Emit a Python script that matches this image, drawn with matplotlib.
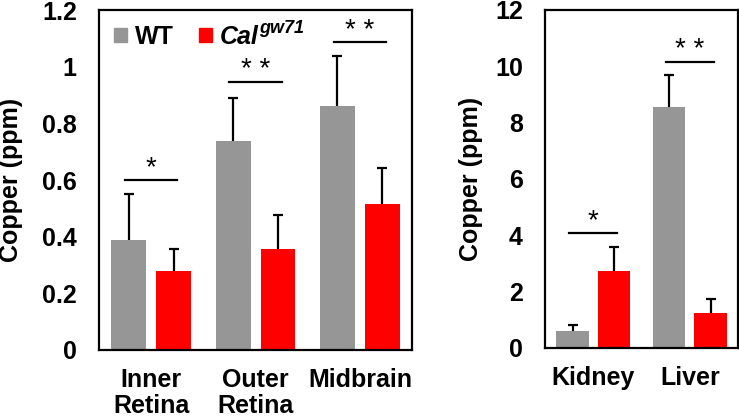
import matplotlib
matplotlib.use('Agg')
import matplotlib.pyplot as plt
from matplotlib.patches import Patch
from matplotlib.transforms import offset_copy
import numpy as np

plt.rcParams['font.family'] = ['Liberation Sans', 'DejaVu Sans']
plt.rcParams['font.weight'] = 'bold'

# brain tissues
brain_labels = ['Inner\nRetina', 'Outer\nRetina', 'Midbrain']
brain_wt = [0.388, 0.738, 0.861]
brain_wt_err = [0.162, 0.151, 0.177]
brain_cal = [0.279, 0.356, 0.515]
brain_cal_err = [0.077, 0.121, 0.128]
brain_sig = ['*', '* *', '* *']
brain_sig_y = [0.60, 0.946, 1.087]

# organs
organ_labels = ['Kidney', 'Liver']
organ_wt = [0.60, 8.55]
organ_wt_err = [0.22, 1.14]
organ_cal = [2.73, 1.24]
organ_cal_err = [0.86, 0.50]
organ_sig = ['*', '* *']
organ_sig_y = [4.08, 10.15]

grey = '#969696'
red = '#ff0000'
w = 0.335
off = 0.215

fig = plt.figure(figsize=(7.39, 4.17), dpi=100)
ax1 = fig.add_axes([0.134, 0.1607, 0.4236, 0.815])
ax2 = fig.add_axes([0.7375, 0.1655, 0.2612, 0.8106])


def draw(ax, labels, wt, wt_err, cal, cal_err, sig, sig_y, ymax, step, fmt):
    x = np.arange(len(labels))
    ax.bar(x - off, wt, w, color=grey, zorder=2)
    ax.bar(x + off, cal, w, color=red, zorder=2)
    for xs, vals, errs in [(x - off, wt, wt_err), (x + off, cal, cal_err)]:
        eb = ax.errorbar(xs, vals, yerr=[np.zeros(len(vals)), errs], fmt='none',
                         ecolor='black', elinewidth=1.6, capsize=3.5, capthick=1.6, zorder=1)
        eb[1][0].set_visible(False)
    for i in range(len(labels)):
        ax.plot([x[i] - 0.25, x[i] + 0.25], [sig_y[i], sig_y[i]], color='black', lw=1.6)
        ax.annotate(sig[i], xy=(x[i], sig_y[i]), xytext=(0, -1), textcoords='offset points',
                    ha='center', va='bottom', fontsize=20, fontweight='normal')
    ax.set_xlim(-0.5, len(labels) - 0.5)
    ax.set_ylim(0, ymax)
    ticks = np.arange(0, ymax + step / 2, step)
    ax.set_yticks(ticks)
    ax.set_yticklabels([fmt(t) for t in ticks])
    ax.set_xticks(x)
    ax.set_xticklabels(labels, linespacing=1.1)
    ax.tick_params(axis='both', length=0, labelsize=18)
    ax.tick_params(axis='y', pad=16)
    ax.tick_params(axis='x', pad=13)
    for s in ax.spines.values():
        s.set_linewidth(1.6)
    ax.set_ylabel('Copper (ppm)', fontsize=18, fontweight='bold')


def fmt1(t):
    t = round(t, 1)
    if t == int(t):
        return str(int(t))
    return ('%.1f' % t)


draw(ax1, brain_labels, brain_wt, brain_wt_err, brain_cal, brain_cal_err,
     brain_sig, brain_sig_y, 1.2, 0.2, fmt1)
draw(ax2, organ_labels, organ_wt, organ_wt_err, organ_cal, organ_cal_err,
     organ_sig, organ_sig_y, 12, 2, lambda t: str(int(round(t))))
ax1.yaxis.set_label_coords(-0.243, 0.5)
ax2.yaxis.set_label_coords(-0.321, 0.5)

handles = [Patch(color=grey), Patch(color=red)]
leg = ax1.legend(handles, ['WT', 'Cal'], loc='upper left', ncol=2,
                 frameon=False, fontsize=18, handlelength=0.52, handleheight=0.5,
                 handletextpad=0.32, columnspacing=1.0, borderaxespad=0.2,
                 bbox_to_anchor=(0.0, 1.0))
cal_txt = leg.get_texts()[1]
cal_txt.set_fontstyle('italic')

# superscript "gw71" after the italic Cal
fig.canvas.draw()
bb = cal_txt.get_window_extent()
x0, y0 = fig.transFigure.inverted().transform((bb.x1, bb.y1))
fig.text(x0, y0, 'gw71', fontsize=13, fontstyle='italic', fontweight='bold',
         ha='left', va='top', transform=offset_copy(fig.transFigure, fig=fig, x=0, y=4, units='points'))

fig.savefig('out.png', dpi=100)
